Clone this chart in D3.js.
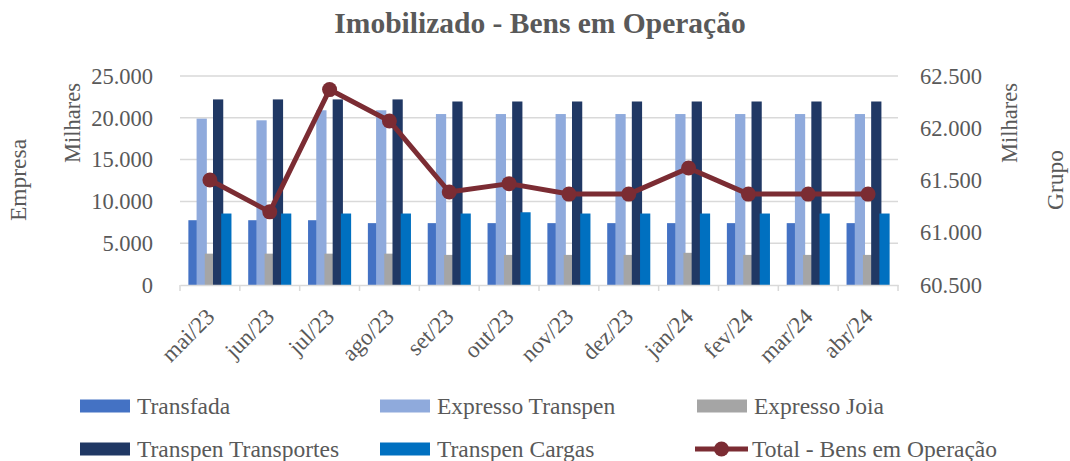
<!DOCTYPE html>
<html><head><meta charset="utf-8">
<script src="https://cdn.jsdelivr.net/npm/d3@7"></script>
<style>body{margin:0;background:#fff}svg{display:block}text{font-family:"Liberation Serif","Times New Roman",serif;fill:#595959}</style>
</head><body><svg id="c" width="1070" height="461"></svg>
<script>
const categories = ["mai/23","jun/23","jul/23","ago/23","set/23","out/23","nov/23","dez/23","jan/24","fev/24","mar/24","abr/24"];
const transfada = [7750,7750,7750,7400,7400,7400,7400,7400,7400,7400,7400,7400];
const expressoTranspen = [19900,19700,20900,20900,20450,20450,20450,20450,20450,20450,20450,20450];
const expressoJoia = [3750,3750,3750,3750,3600,3600,3600,3600,3850,3600,3600,3600];
const transpenTransportes = [22200,22200,22200,22200,21950,21950,21950,21950,21950,21950,21950,21950];
const transpenCargas = [8550,8550,8550,8550,8550,8700,8550,8550,8550,8550,8550,8550];
const totalBens = [61505,61200,62370,62070,61390,61470,61370,61370,61620,61370,61370,61370];
const leftTicks = [0,5000,10000,15000,20000,25000];
const rightTicks = [60500,61000,61500,62000,62500];
const seriesNames = ["Transfada","Expresso Transpen","Expresso Joia","Transpen Transportes","Transpen Cargas"];
const seriesColors = ["#4472C4","#8FAADC","#A5A5A5","#203864","#0070C0"];
const lineName = "Total - Bens em Operação";
const lineColor = "#7B2C33";
const series = [transfada, expressoTranspen, expressoJoia, transpenTransportes, transpenCargas];

const fmt = v => d3.format(",")(v).replace(/,/g, ".");
const svg = d3.select("#c");
const L = 180, R = 898, T = 76, B = 285;
const x = d3.scaleBand().domain(categories).range([L, R]);
const yL = d3.scaleLinear().domain([0, 25000]).range([B, T]);
const yR = d3.scaleLinear().domain([60500, 62500]).range([B, T]);

// title
svg.append("text").attr("x", 540).attr("y", 33).attr("text-anchor", "middle")
  .style("font-size", "29.5px").style("font-weight", "bold").text("Imobilizado - Bens em Operação");

// gridlines
svg.append("g").selectAll("line").data(leftTicks.slice(1)).join("line")
  .attr("x1", L).attr("x2", R).attr("y1", d => yL(d)).attr("y2", d => yL(d))
  .attr("stroke", "#D9D9D9").attr("stroke-width", 1.5);

// left axis
const gl = svg.append("g").attr("transform", `translate(${L},0)`)
  .call(d3.axisLeft(yL).tickValues(leftTicks).tickFormat(fmt).tickSize(0).tickPadding(27));
gl.select(".domain").remove();
gl.selectAll("text").style("font-size", "22.5px").attr("fill", "#595959").style("font-family", "Liberation Serif");

// right axis
const gr = svg.append("g").attr("transform", `translate(${R},0)`)
  .call(d3.axisRight(yR).tickValues(rightTicks).tickFormat(fmt).tickSize(0).tickPadding(22));
gr.select(".domain").remove();
gr.selectAll("text").style("font-size", "22.5px").attr("fill", "#595959").style("font-family", "Liberation Serif");

// bars
const bw = x.bandwidth();
const groupW = bw * 0.72;
const w = groupW / 4.2, step = w * 0.8;
series.forEach((vals, si) => {
  svg.append("g").selectAll("rect").data(vals).join("rect")
    .attr("x", (d, i) => x(categories[i]) + (bw - groupW) / 2 + si * step)
    .attr("width", w)
    .attr("y", d => yL(d)).attr("height", d => B - yL(d))
    .attr("fill", seriesColors[si]);
});

// bottom axis
const gb = svg.append("g").attr("transform", `translate(0,${B})`)
  .call(d3.axisBottom(x).tickSize(0).tickFormat(""));
gb.select(".domain").attr("stroke", "#D9D9D9").attr("stroke-width", 1.5);
gb.selectAll(".tick").remove();
svg.append("g").selectAll("line").data(categories.concat(["__end"])).join("line")
  .attr("x1", (d, i) => L + i * bw).attr("x2", (d, i) => L + i * bw)
  .attr("y1", B).attr("y2", B + 6).attr("stroke", "#D9D9D9").attr("stroke-width", 1.5);
svg.append("g").selectAll("text").data(categories).join("text")
  .attr("transform", d => `translate(${x(d) + bw / 2 + 6},${B + 33}) rotate(-45)`)
  .attr("text-anchor", "end").style("font-size", "23px").text(d => d);

// line
const lineGen = d3.line().x((d, i) => x(categories[i]) + bw / 2).y(d => yR(d));
svg.append("path").datum(totalBens).attr("d", lineGen).attr("fill", "none")
  .attr("stroke", lineColor).attr("stroke-width", 5).attr("stroke-linejoin", "round");
svg.append("g").selectAll("circle").data(totalBens).join("circle")
  .attr("cx", (d, i) => x(categories[i]) + bw / 2).attr("cy", d => yR(d)).attr("r", 7.5)
  .attr("fill", lineColor);

// axis titles
svg.append("text").attr("transform", "translate(26,180) rotate(-90)").attr("text-anchor", "middle").style("font-size", "23.5px").text("Empresa");
svg.append("text").attr("transform", "translate(80,123) rotate(-90)").attr("text-anchor", "middle").style("font-size", "22.5px").text("Milhares");
svg.append("text").attr("transform", "translate(1017,123) rotate(-90)").attr("text-anchor", "middle").style("font-size", "22.5px").text("Milhares");
svg.append("text").attr("transform", "translate(1063,180) rotate(-90)").attr("text-anchor", "middle").style("font-size", "23.5px").text("Grupo");

// legend
const legendItems = [
  {name: seriesNames[0], color: seriesColors[0], x: 80, y: 406, type: "rect"},
  {name: seriesNames[1], color: seriesColors[1], x: 380, y: 406, type: "rect"},
  {name: seriesNames[2], color: seriesColors[2], x: 697, y: 406, type: "rect"},
  {name: seriesNames[3], color: seriesColors[3], x: 80, y: 449, type: "rect"},
  {name: seriesNames[4], color: seriesColors[4], x: 380, y: 449, type: "rect"},
  {name: lineName, color: lineColor, x: 695, y: 449, type: "line"}
];
const lg = svg.append("g").selectAll("g").data(legendItems).join("g")
  .attr("transform", d => `translate(${d.x},${d.y})`);
lg.filter(d => d.type === "rect").append("rect").attr("x", 0).attr("y", -6.5).attr("width", 50).attr("height", 13).attr("fill", d => d.color);
lg.filter(d => d.type === "line").append("line").attr("x1", 0).attr("x2", 53).attr("y1", 0).attr("y2", 0).attr("stroke", d => d.color).attr("stroke-width", 5);
lg.filter(d => d.type === "line").append("circle").attr("cx", 26.5).attr("cy", 0).attr("r", 7.5).attr("fill", d => d.color);
lg.append("text").attr("x", 57).attr("y", 7.5).style("font-size", "23.5px").text(d => d.name);
</script></body></html>
